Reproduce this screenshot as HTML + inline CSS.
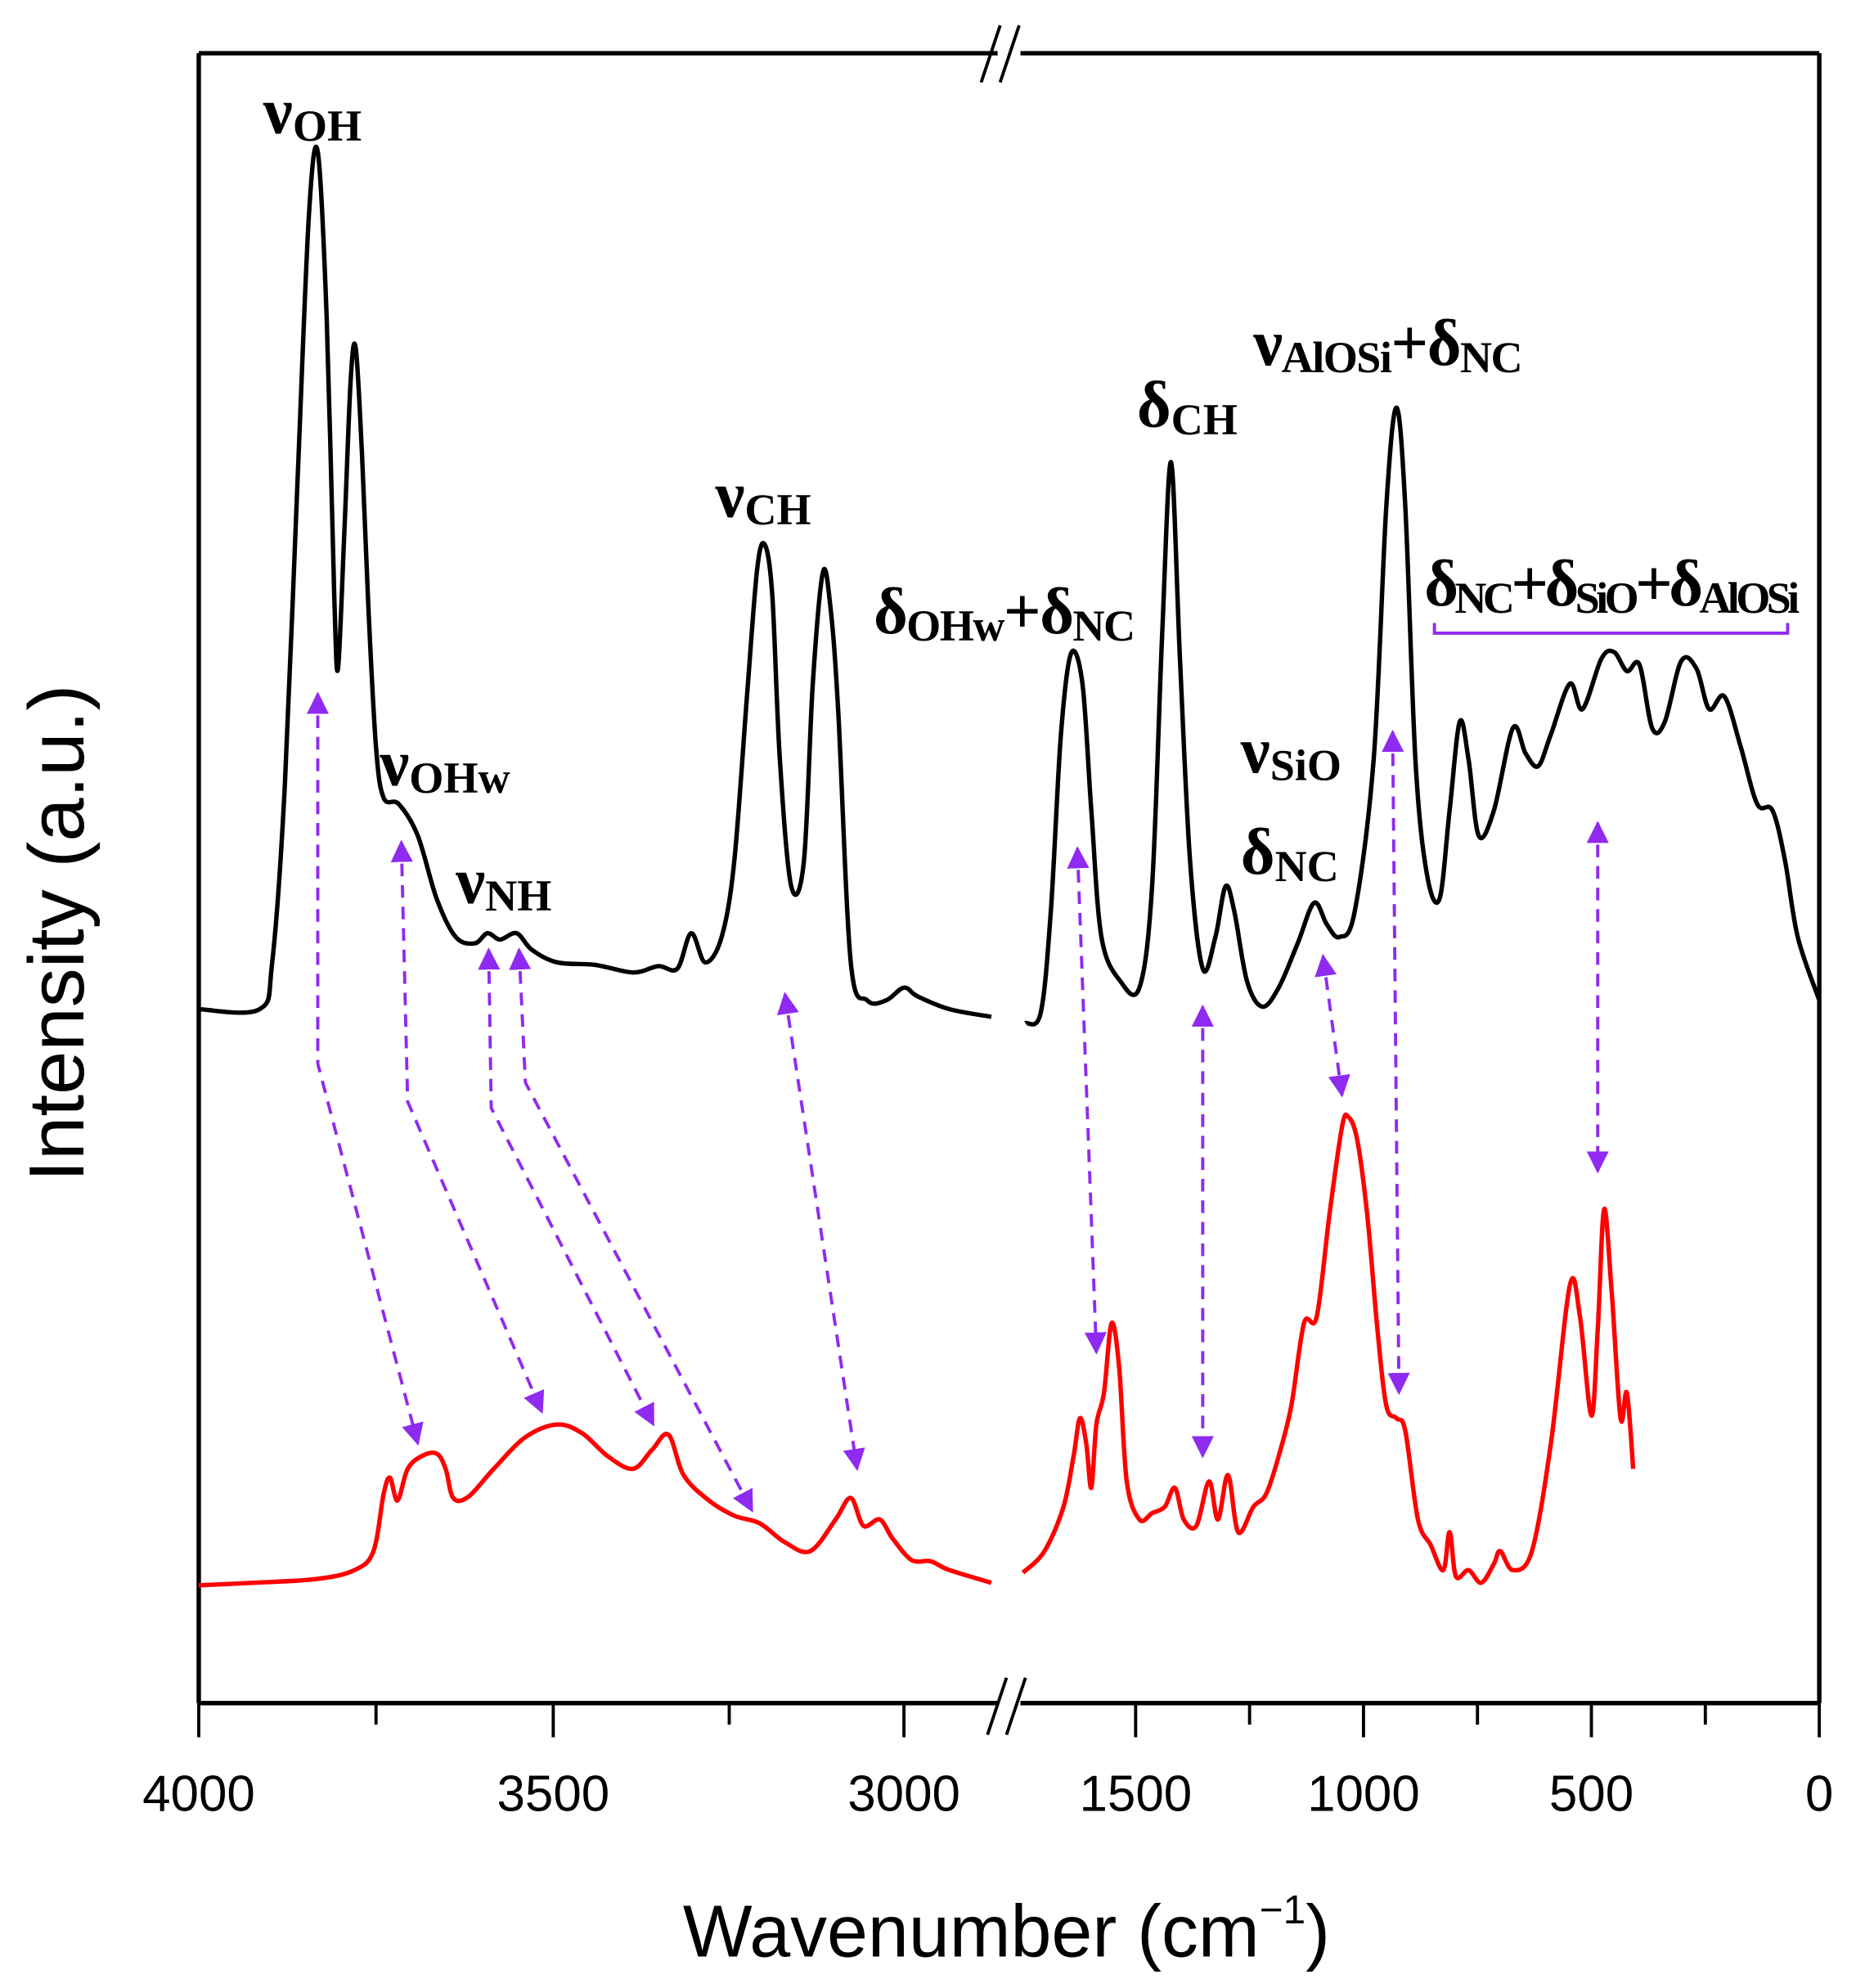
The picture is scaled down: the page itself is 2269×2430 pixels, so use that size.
<!DOCTYPE html>
<html><head><meta charset="utf-8"><style>html,body{margin:0;padding:0;background:#fff}svg{display:block}</style></head>
<body>
<svg id="s" xmlns="http://www.w3.org/2000/svg" width="2269" height="2430" viewBox="0 0 1466 1570">
<defs>
<marker id="ah" viewBox="0 0 10 10" refX="9" refY="5" markerWidth="7" markerHeight="7" orient="auto-start-reverse">
<path d="M0,0 L10,5 L0,10 z" fill="#8f2bf0"/></marker>
</defs>
<rect width="1466" height="1570" fill="#fff"/>
<g stroke="#000" stroke-width="3.5" fill="none">
<line x1="157" y1="42" x2="1437" y2="42"/>
<line x1="157" y1="1345" x2="1437" y2="1345"/>
<line x1="157" y1="42" x2="157" y2="1345"/>
<line x1="1437" y1="42" x2="1437" y2="1345"/>
</g>
<g stroke="#fff" stroke-width="14"><line x1="788" y1="42" x2="806" y2="42"/><line x1="788" y1="1345" x2="806" y2="1345"/></g>
<g stroke="#000" stroke-width="2.5">
<line x1="775" y1="65" x2="790" y2="20"/><line x1="790" y1="65" x2="805" y2="20"/>
<line x1="780" y1="1370" x2="795" y2="1325"/><line x1="795" y1="1370" x2="810" y2="1325"/>
</g>
<g stroke="#000" stroke-width="2.5">
<line x1="157" y1="1345" x2="157" y2="1372"/><line x1="437" y1="1345" x2="437" y2="1372"/><line x1="714" y1="1345" x2="714" y2="1372"/>
<line x1="297" y1="1345" x2="297" y2="1362"/><line x1="576" y1="1345" x2="576" y2="1362"/>
<line x1="897" y1="1345" x2="897" y2="1372"/><line x1="1077" y1="1345" x2="1077" y2="1372"/><line x1="1257" y1="1345" x2="1257" y2="1372"/><line x1="1437" y1="1345" x2="1437" y2="1372"/>
<line x1="987" y1="1345" x2="987" y2="1362"/><line x1="1167" y1="1345" x2="1167" y2="1362"/><line x1="1347" y1="1345" x2="1347" y2="1362"/>
</g>
<g font-family="Liberation Sans, sans-serif" font-size="40" text-anchor="middle" fill="#000">
<text x="157" y="1430">4000</text><text x="437" y="1430">3500</text><text x="714" y="1430">3000</text>
<text x="897" y="1430">1500</text><text x="1077" y="1430">1000</text><text x="1257" y="1430">500</text><text x="1437" y="1430">0</text>
<text x="795" y="1545" font-size="58">Wavenumber (cm<tspan dy="-26" font-size="32">−1</tspan><tspan dy="26">)</tspan></text>
<text transform="translate(66,737) rotate(-90)" font-size="62">Intensity (a.u.)</text>
</g>
<g id="curves" fill="none" stroke-width="3.5" stroke-linejoin="round"></g>
<g fill="none" stroke="#8f2bf0" stroke-width="2.5" stroke-dasharray="10,7" marker-start="url(#ah)" marker-end="url(#ah)">
<polyline points="251,548 251,840 330,1140"/>
<polyline points="317,665 322,870 428,1115"/>
<polyline points="386,750 388,875 516,1125"/>
<polyline points="410,750 415,855 594,1193"/>
<polyline points="620,785 677,1160"/>
<polyline points="851,670 866,1068"/>
<polyline points="950,795 950,1150"/>
<polyline points="1045,755 1060,865"/>
<polyline points="1100,578 1105,1100"/>
<polyline points="1262,650 1262,925"/>
</g>
<polyline points="1133,492 1133,500 1412,500 1412,492" fill="none" stroke="#8f2bf0" stroke-width="2.5"/>
<g font-family="Liberation Serif, serif" font-size="52" font-weight="bold" fill="#000">
<text x="208" y="105">ν<tspan font-size="35" dy="6">OH</tspan></text>
<text x="300" y="620">ν<tspan font-size="35" dy="6">OHw</tspan></text>
<text x="360" y="713">ν<tspan font-size="35" dy="6">NH</tspan></text>
<text x="565" y="408">ν<tspan font-size="35" dy="6">CH</tspan></text>
<text x="690" y="500" letter-spacing="-1">δ<tspan font-size="35" dy="6">OHw</tspan><tspan dy="-6">+δ</tspan><tspan font-size="35" dy="6">NC</tspan></text>
<text x="898" y="337">δ<tspan font-size="35" dy="6">CH</tspan></text>
<text x="990" y="288" letter-spacing="-1">ν<tspan font-size="35" dy="6">AlOSi</tspan><tspan dy="-6">+δ</tspan><tspan font-size="35" dy="6">NC</tspan></text>
<text x="980" y="610">ν<tspan font-size="35" dy="6">SiO</tspan></text>
<text x="980" y="690">δ<tspan font-size="35" dy="6">NC</tspan></text>
<text x="1125" y="478" letter-spacing="-3">δ<tspan font-size="35" dy="6">NC</tspan><tspan dy="-6">+δ</tspan><tspan font-size="35" dy="6">SiO</tspan><tspan dy="-6">+δ</tspan><tspan font-size="35" dy="6">AlOSi</tspan></text>
</g>
</svg>
<script>
var data=[
["#000","157,797 205,797 215,760 225,620 235,380 244,170 251,120 258,250 264,470 267,528 272,420 277,300 281,275 286,360 291,480 297,590 303,630 315,635 330,660 345,710 360,740 375,745 385,737 395,742 408,737 420,750 440,760 470,762 500,768 520,763 535,765 546,737 557,760 570,740 580,680 590,550 598,450 604,430 610,470 616,600 625,700 635,680 642,540 650,452 656,480 662,560 672,760 685,790 700,790 714,780 725,787 750,797 783,803"],
["#000","810,808 822,800 830,720 838,580 846,516 855,540 862,640 870,740 885,775 900,780 910,700 918,500 925,365 932,520 940,680 950,765 960,740 968,700 975,720 985,775 997,795 1010,780 1025,745 1038,713 1048,730 1058,740 1070,720 1085,600 1095,400 1103,322 1110,400 1118,600 1127,690 1137,710 1145,640 1153,570 1160,600 1168,660 1180,640 1195,575 1205,595 1215,605 1225,580 1240,540 1250,560 1265,520 1275,515 1285,530 1295,525 1305,575 1315,570 1328,522 1340,528 1350,560 1362,550 1375,590 1388,635 1400,640 1410,680 1420,740 1437,790"],
["#f00","157,1252 200,1250 250,1247 280,1240 295,1225 303,1180 308,1167 314,1185 322,1160 333,1150 345,1148 352,1160 358,1183 370,1182 390,1160 415,1135 440,1125 460,1132 480,1150 500,1160 515,1145 528,1133 540,1165 560,1185 580,1197 600,1203 620,1218 640,1225 660,1200 672,1183 682,1205 695,1200 705,1215 720,1232 735,1233 750,1240 783,1250"],
["#f00","808,1242 825,1225 840,1190 848,1150 853,1120 858,1140 862,1175 866,1125 872,1100 878,1045 884,1080 890,1170 900,1200 910,1195 920,1190 928,1175 935,1200 945,1205 955,1170 962,1200 970,1165 978,1210 990,1190 1000,1180 1010,1150 1020,1110 1030,1045 1040,1040 1050,960 1060,890 1065,882 1072,900 1080,960 1088,1050 1095,1110 1103,1120 1110,1130 1120,1200 1130,1220 1140,1240 1145,1210 1150,1245 1160,1240 1170,1250 1180,1235 1185,1225 1195,1240 1210,1225 1225,1140 1240,1015 1248,1040 1257,1118 1262,1050 1267,955 1273,1020 1280,1120 1285,1100 1290,1160"]];
var g=document.getElementById("curves");
data.forEach(function(d){
var p=d[1].split(" ").map(function(s){return s.split(",").map(Number)});
var s="M"+p[0][0]+","+p[0][1];
for(var i=0;i<p.length-1;i++){
var p0=p[i-1]||p[i],p1=p[i],p2=p[i+1],p3=p[i+2]||p2;
var c1x=p1[0]+(p2[0]-p0[0])/6,c1y=p1[1]+(p2[1]-p0[1])/6,c2x=p2[0]-(p3[0]-p1[0])/6,c2y=p2[1]-(p3[1]-p1[1])/6;
s+=" C"+c1x.toFixed(1)+","+c1y.toFixed(1)+" "+c2x.toFixed(1)+","+c2y.toFixed(1)+" "+p2[0]+","+p2[1];}
var e=document.createElementNS("http://www.w3.org/2000/svg","path");
e.setAttribute("d",s);e.setAttribute("stroke",d[0]);g.appendChild(e);});
</script>
</body></html>
